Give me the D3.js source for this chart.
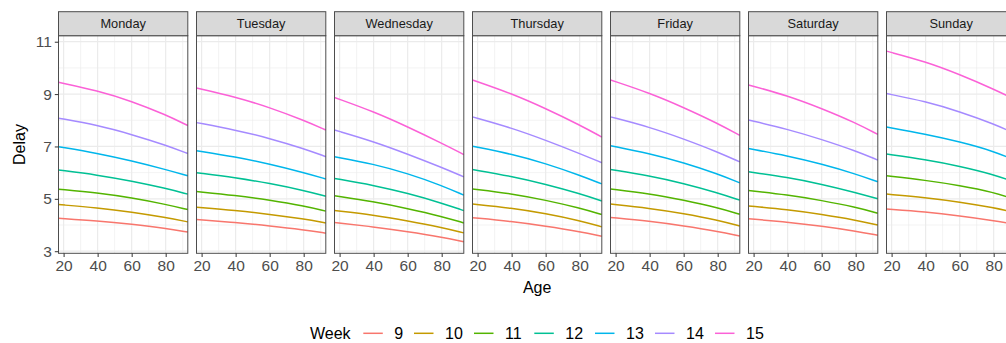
<!DOCTYPE html>
<html>
<head>
<meta charset="utf-8">
<script src="https://cdn.jsdelivr.net/npm/d3@7"></script>
<style>
  html, body { margin: 0; padding: 0; background: #ffffff; }
  svg { display: block; font-family: "Liberation Sans", Arial, Helvetica, sans-serif; }
</style>
</head>
<body>
<svg id="chart" width="1006" height="343"></svg>
<script>
// Facet labels, legend groups and sampled ages
const days = ["Monday", "Tuesday", "Wednesday", "Thursday", "Friday", "Saturday", "Sunday"];
const weeks = [9, 10, 11, 12, 13, 14, 15];
const weekColors = ["#F8766D", "#C49A00", "#53B400", "#00C094", "#00B6EB", "#A58AFF", "#FB61D7"];
const ages = [17, 40, 60, 80, 93];
const xTicks = [20, 40, 60, 80];
const yTicks = [3, 5, 7, 9, 11];

// Predicted delay per week (rows: weeks 9..15), sampled at the ages above
const delayMonday = [
  [4.26, 4.16, 4.03, 3.87, 3.73],
  [4.78, 4.66, 4.50, 4.29, 4.12],
  [5.37, 5.23, 5.04, 4.79, 4.59],
  [6.10, 5.91, 5.68, 5.40, 5.18],
  [6.99, 6.74, 6.45, 6.12, 5.88],
  [8.08, 7.81, 7.46, 7.05, 6.73],
  [9.45, 9.13, 8.73, 8.21, 7.80]
];
const delayTuesday = [
  [4.21, 4.10, 3.97, 3.82, 3.69],
  [4.68, 4.56, 4.41, 4.23, 4.08],
  [5.28, 5.13, 4.95, 4.73, 4.53],
  [6.00, 5.81, 5.59, 5.32, 5.10],
  [6.84, 6.60, 6.33, 6.00, 5.76],
  [7.91, 7.63, 7.31, 6.92, 6.61],
  [9.23, 8.89, 8.49, 8.00, 7.63]
];
const delayWednesday = [
  [4.10, 3.93, 3.75, 3.54, 3.36],
  [4.55, 4.38, 4.16, 3.91, 3.70],
  [5.12, 4.89, 4.63, 4.33, 4.08],
  [5.78, 5.52, 5.21, 4.84, 4.55],
  [6.61, 6.33, 5.97, 5.51, 5.14],
  [7.63, 7.19, 6.71, 6.20, 5.84],
  [8.87, 8.33, 7.75, 7.12, 6.69]
];
const delayThursday = [
  [4.28, 4.14, 3.96, 3.75, 3.57],
  [4.80, 4.65, 4.44, 4.17, 3.93],
  [5.38, 5.20, 4.95, 4.65, 4.40],
  [6.12, 5.86, 5.56, 5.20, 4.92],
  [7.01, 6.71, 6.35, 5.90, 5.57],
  [8.13, 7.71, 7.24, 6.73, 6.38],
  [9.54, 9.02, 8.45, 7.82, 7.36]
];
const delayFriday = [
  [4.29, 4.15, 3.97, 3.76, 3.58],
  [4.80, 4.64, 4.44, 4.19, 3.96],
  [5.38, 5.20, 4.95, 4.66, 4.41],
  [6.12, 5.88, 5.59, 5.23, 4.95],
  [7.03, 6.73, 6.38, 5.95, 5.61],
  [8.13, 7.74, 7.29, 6.79, 6.41],
  [9.54, 9.04, 8.49, 7.88, 7.42]
];
const delaySaturday = [
  [4.24, 4.11, 3.96, 3.77, 3.61],
  [4.73, 4.59, 4.41, 4.19, 4.00],
  [5.32, 5.15, 4.94, 4.68, 4.45],
  [6.03, 5.82, 5.56, 5.24, 5.00],
  [6.92, 6.64, 6.33, 5.95, 5.65],
  [8.01, 7.66, 7.27, 6.83, 6.48],
  [9.35, 8.94, 8.45, 7.90, 7.46]
];
const delaySunday = [
  [4.61, 4.50, 4.35, 4.17, 4.02],
  [5.18, 5.05, 4.88, 4.66, 4.47],
  [5.88, 5.71, 5.51, 5.25, 4.97],
  [6.71, 6.50, 6.25, 5.93, 5.62],
  [7.74, 7.47, 7.18, 6.82, 6.46],
  [9.02, 8.72, 8.33, 7.86, 7.48],
  [10.64, 10.24, 9.75, 9.19, 8.78]
];
const delayByDay = [delayMonday, delayTuesday, delayWednesday, delayThursday,
                    delayFriday, delaySaturday, delaySunday];

// Layout
const svg = d3.select("#chart");
const panelLeft = 58.5, panelStep = 138, panelW = 129.3;
const stripTop = 11.7, panelTop = 35.7, panelBottom = 253.3;
const strokeDark = "#4d4d4d";

const x = d3.scaleLinear().domain([17, 93]).range([0, panelW]);
const y = d3.scaleLinear().domain([2.92, 11.23]).range([panelBottom, panelTop]);
const color = d3.scaleOrdinal().domain(weeks).range(weekColors);

const line = d3.line()
  .x(d => x(d.age))
  .y(d => y(d.delay))
  .curve(d3.curveBasis);

const xMinor = [30, 50, 70, 90];
const yMinor = [4, 6, 8, 10];

days.forEach((day, i) => {
  const g = svg.append("g").attr("transform", `translate(${panelLeft + i * panelStep},0)`);

  // panel background and grid
  g.append("rect").attr("x", 0).attr("y", panelTop)
    .attr("width", panelW).attr("height", panelBottom - panelTop).attr("fill", "#ffffff");
  const grid = g.append("g");
  grid.selectAll(".xminor").data(xMinor).join("line")
    .attr("x1", d => x(d)).attr("x2", d => x(d))
    .attr("y1", panelTop).attr("y2", panelBottom)
    .attr("stroke", "#EBEBEB").attr("stroke-width", 0.6);
  grid.selectAll(".yminor").data(yMinor).join("line")
    .attr("x1", 0).attr("x2", panelW)
    .attr("y1", d => y(d)).attr("y2", d => y(d))
    .attr("stroke", "#EBEBEB").attr("stroke-width", 0.6);
  grid.selectAll(".xmajor").data(xTicks).join("line")
    .attr("x1", d => x(d)).attr("x2", d => x(d))
    .attr("y1", panelTop).attr("y2", panelBottom)
    .attr("stroke", "#EBEBEB").attr("stroke-width", 1.2);
  grid.selectAll(".ymajor").data(yTicks).join("line")
    .attr("x1", 0).attr("x2", panelW)
    .attr("y1", d => y(d)).attr("y2", d => y(d))
    .attr("stroke", "#EBEBEB").attr("stroke-width", 1.2);

  // fitted curves, one per week
  const series = delayByDay[i].map((vals, k) => ({
    week: weeks[k],
    points: vals.map((v, j) => ({ age: ages[j], delay: v }))
  }));
  g.selectAll(".curve").data(series).join("path")
    .attr("d", d => line(d.points))
    .attr("fill", "none")
    .attr("stroke", d => color(d.week))
    .attr("stroke-width", 1.5);

  // panel border
  g.append("rect").attr("x", 0).attr("y", panelTop)
    .attr("width", panelW).attr("height", panelBottom - panelTop)
    .attr("fill", "none").attr("stroke", strokeDark).attr("stroke-width", 1);

  // strip
  g.append("rect").attr("x", 0).attr("y", stripTop)
    .attr("width", panelW).attr("height", panelTop - stripTop)
    .attr("fill", "#D9D9D9").attr("stroke", strokeDark).attr("stroke-width", 1);
  g.append("text").attr("x", panelW / 2).attr("y", (stripTop + panelTop) / 2)
    .attr("text-anchor", "middle").attr("dominant-baseline", "central")
    .attr("font-size", 12.8).attr("fill", "#1A1A1A").text(day);

  // bottom axis
  const xAxis = d3.axisBottom(x).tickValues(xTicks).tickSize(3.7).tickPadding(3);
  const ax = g.append("g").attr("transform", `translate(0,${panelBottom})`).call(xAxis);
  ax.select(".domain").remove();
  ax.selectAll(".tick line").attr("stroke", "#333333").attr("stroke-width", 1);
  ax.selectAll(".tick text").attr("font-size", 15.5).attr("fill", "#4D4D4D")
    .attr("font-family", "Liberation Sans, Arial, sans-serif");

  // left axis on the first panel only
  if (i === 0) {
    const yAxis = d3.axisLeft(y).tickValues(yTicks).tickSize(3.7).tickPadding(3);
    const ay = g.append("g").call(yAxis);
    ay.select(".domain").remove();
    ay.selectAll(".tick line").attr("stroke", "#333333").attr("stroke-width", 1);
    ay.selectAll(".tick text").attr("font-size", 15.5).attr("fill", "#4D4D4D")
      .attr("font-family", "Liberation Sans, Arial, sans-serif");
  }
});

// axis titles
const plotRight = panelLeft + 6 * panelStep + panelW;
svg.append("text")
  .attr("x", (panelLeft + plotRight) / 2).attr("y", 292.5)
  .attr("text-anchor", "middle").attr("font-size", 16).attr("fill", "#000")
  .text("Age");
svg.append("text")
  .attr("transform", `translate(24.5,${(panelTop + panelBottom) / 2}) rotate(-90)`)
  .attr("text-anchor", "middle").attr("font-size", 16).attr("fill", "#000")
  .text("Delay");

// legend
const legend = svg.append("g").attr("transform", "translate(310,333.3)");
legend.append("text").attr("x", 0).attr("y", 5.3)
  .attr("font-size", 16).attr("fill", "#000").text("Week");
const keyStarts = [363.3, 414, 474, 534.3, 595, 655, 715];
const items = legend.selectAll(".item").data(weeks).join("g")
  .attr("transform", (d, k) => `translate(${keyStarts[k] - 310},0)`);
items.append("line").attr("x1", 0).attr("x2", 19.5).attr("y1", 0).attr("y2", 0)
  .attr("stroke", d => color(d)).attr("stroke-width", 1.5);
items.append("text").attr("x", 31).attr("y", 5.3)
  .attr("font-size", 16).attr("fill", "#000").text(d => d);
</script>
</body>
</html>
